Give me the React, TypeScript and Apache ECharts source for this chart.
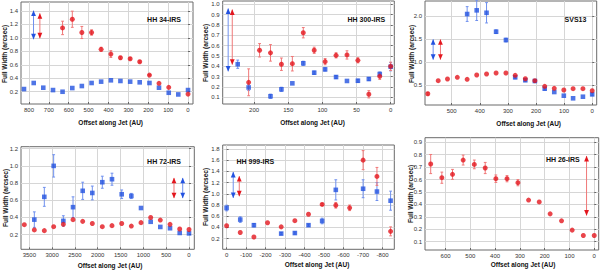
import React, { useEffect, useRef } from 'react';
import * as echarts from 'echarts';

const RED = '#e3161e';
const RED_ERR = '#f07878';
const BLUE = '#2352e0';
const BLUE_ERR = '#6f90ee';

// ---------- Panel 1: HH 34-IRS ----------
const p1Title = 'HH 34-IRS';
const p1BlueX = [825, 776, 728, 679, 631, 582, 534, 485, 437, 388, 340, 291, 243, 194, 146, 97, 49, 0];
const p1BlueY = [0.24, 0.33, 0.26, 0.225, 0.2, 0.255, 0.285, 0.33, 0.35, 0.37, 0.36, 0.35, 0.34, 0.33, 0.26, 0.185, 0.16, 0.225];
const p1BlueErr = [0, 0, 0, 0, 0, 0, 0, 0, 0, 0, 0, 0, 0, 0, 0, 0, 0, 0];
const p1RedX = [631, 582, 534, 485, 437, 388, 340, 291, 243, 194, 146, 97, 0];
const p1RedY = [1.148, 1.277, 1.08, 1.08, 0.83, 0.76, 0.705, 0.69, 0.645, 0.447, 0.325, 0.265, 0.165];
const p1RedErr = [0.1, 0.12, 0.09, 0.04, 0.03, 0.05, 0.02, 0.015, 0.015, 0.01, 0, 0, 0];
const p1BlueArrow = [777, 1.025, 1.36];
const p1RedArrow = [745, 1.04, 1.32];
const p1XTicks = [0, 100, 200, 300, 400, 500, 600, 700, 800];
const p1YTicks = [0.2, 0.4, 0.6, 0.8, 1.0, 1.2, 1.4];

// ---------- Panel 2: HH 300-IRS ----------
const p2Title = 'HH 300-IRS';
const p2BlueX = [224, 208, 176, 160, 144, 128, 112, 96, 80, 64, 48, 32, 16, 0];
const p2BlueY = [0.42, 0.195, 0.11, 0.177, 0.235, 0.429, 0.338, 0.37, 0.296, 0.258, 0.26, 0.277, 0.325, 0.396];
const p2BlueErr = [0.04, 0.03, 0.02, 0.02, 0, 0.02, 0.015, 0.015, 0.015, 0, 0.015, 0.015, 0.02, 0.04];
const p2RedX = [208, 192, 176, 160, 144, 128, 112, 96, 80, 64, 48, 32, 16, 0];
const p2RedY = [0.245, 0.555, 0.53, 0.42, 0.425, 0.725, 0.555, 0.445, 0.506, 0.51, 0.458, 0.129, 0.303, 0.4];
const p2RedErr = [0.13, 0.065, 0.08, 0.06, 0.07, 0.05, 0.03, 0.03, 0.025, 0.04, 0.025, 0.035, 0.03, 0.04];
const p2BlueArrow = [238, 0.38, 0.93];
const p2RedArrow = [232, 0.445, 0.92];
const p2XTicks = [0, 50, 100, 150, 200];
const p2YTicks = [0.1, 0.2, 0.3, 0.4, 0.5, 0.6, 0.7, 0.8, 0.9, 1.0];

// ---------- Panel 3: SVS13 ----------
const p3Title = 'SVS13';
const p3BlueX = [445, 411, 376, 342, 307, 274, 238, 204, 169, 135, 101, 68, 33, 0];
const p3BlueY = [2.043, 2.123, 2.07, 1.66, 1.48, 0.673, 0.61, 0.593, 0.427, 0.355, 0.275, 0.219, 0.253, 0.305];
const p3BlueErr = [0.16, 0.22, 0.22, 0.04, 0.04, 0.03, 0.03, 0.03, 0.03, 0, 0, 0, 0, 0.03];
const p3RedX = [585, 548, 515, 480, 445, 411, 376, 342, 307, 274, 238, 204, 169, 135, 101, 68, 33, 0];
const p3RedY = [0.318, 0.6, 0.636, 0.673, 0.63, 0.723, 0.745, 0.766, 0.766, 0.716, 0.643, 0.6, 0.478, 0.435, 0.398, 0.427, 0.427, 0.384];
const p3RedErr = [0.03, 0, 0, 0, 0, 0, 0, 0, 0, 0, 0, 0, 0, 0, 0, 0, 0, 0];
const p3BlueArrow = [566, 1.12, 1.43];
const p3RedArrow = [540, 1.12, 1.43];
const p3XTicks = [0, 100, 200, 300, 400, 500];
const p3YTicks = [0.5, 1.0, 1.5, 2.0];

// ---------- Panel 4: HH 72-IRS ----------
const p4Title = 'HH 72-IRS';
const p4BlueX = [3390, 3171, 2966, 2754, 2542, 2330, 2119, 1900, 1688, 1475, 1264, 1052, 840, 629, 416, 204, 0];
const p4BlueY = [0.375, 0.64, 1.0, 0.36, 0.52, 0.71, 0.685, 0.81, 0.845, 0.67, 0.65, 0.51, 0.35, 0.29, 0.275, 0.22, 0.215];
const p4BlueErr = [0.09, 0.11, 0.13, 0.06, 0.12, 0.1, 0.08, 0.07, 0.07, 0.05, 0.03, 0, 0, 0, 0, 0, 0];
const p4RedX = [3609, 3390, 3171, 2966, 2754, 2542, 2330, 2119, 1900, 1688, 1475, 1264, 1052, 840, 629, 416, 204, 0];
const p4RedY = [0.316, 0.255, 0.247, 0.293, 0.32, 0.375, 0.355, 0.33, 0.293, 0.305, 0.33, 0.3, 0.34, 0.4, 0.37, 0.32, 0.266, 0.26];
const p4RedErr = [0, 0, 0, 0, 0, 0, 0, 0, 0, 0, 0, 0, 0, 0, 0, 0, 0, 0];
const p4BlueArrow = [138, 0.66, 0.825];
const p4RedArrow = [329, 0.66, 0.825];
const p4XTicks = [0, 500, 1000, 1500, 2000, 2500, 3000, 3500];
const p4YTicks = [0.2, 0.4, 0.6, 0.8, 1.0, 1.2];

// ---------- Panel 5: HH 999-IRS ----------
const p5Title = 'HH 999-IRS';
const p5BlueX = [0, -70, -140, -280, -350, -420, -490, -560, -700, -771, -841];
const p5BlueY = [0.746, 0.54, 0.44, 0.29, 0.3, 0.44, 0.515, 1.07, 1.09, 1.04, 0.877];
const p5BlueErr = [0.05, 0.05, 0.03, 0.02, 0.02, 0.02, 0.05, 0.18, 0.16, 0.16, 0.17];
const p5RedX = [0, -70, -140, -210, -280, -350, -420, -490, -560, -631, -700, -771, -841];
const p5RedY = [0.43, 0.31, 0.23, 0.484, 0.41, 0.52, 0.635, 0.81, 0.795, 0.75, 1.6, 1.31, 0.33];
const p5RedErr = [0, 0, 0, 0, 0, 0, 0, 0.02, 0.05, 0.05, 0.17, 0.16, 0.08];
const p5BlueArrow = [-34, 0.98, 1.335];
const p5RedArrow = [-65, 1.01, 1.26];
const p5XTicks = [0, -100, -200, -300, -400, -500, -600, -700, -800];
const p5YTicks = [0.2, 0.4, 0.6, 0.8, 1.0, 1.2, 1.4, 1.6, 1.8];

// ---------- Panel 6: HH 26-IRS ----------
const p6Title = 'HH 26-IRS';
const p6RedX = [660, 615, 572, 529, 484, 440, 397, 352, 308, 265, 222, 178, 132, 89, 44, 0];
const p6RedY = [0.725, 0.615, 0.642, 0.757, 0.722, 0.693, 0.607, 0.607, 0.575, 0.435, 0.42, 0.324, 0.268, 0.193, 0.15, 0.15];
const p6RedErr = [0.077, 0.045, 0.04, 0.04, 0.035, 0.045, 0.03, 0.025, 0.025, 0, 0, 0, 0, 0, 0, 0];
const p6RedArrow = [31, 0.335, 0.765];
const p6XTicks = [0, 100, 200, 300, 400, 500, 600];
const p6YTicks = [0.1, 0.2, 0.3, 0.4, 0.5, 0.6, 0.7, 0.8, 0.9];

const Y_TITLE = 'Full Width (arcsec)';
const X_TITLE = 'Offset along Jet (AU)';
const FONT = '"Liberation Sans", Arial, Helvetica, sans-serif';

type Panel = {
  title: string;
  blueX?: number[]; blueY?: number[]; blueErr?: number[];
  redX: number[]; redY: number[]; redErr: number[];
  blueArrow?: number[]; redArrow?: number[];
  xTicks: number[]; yTicks: number[];
  layout: {
    left: number; top: number; width: number; height: number;
    xMin: number; xMax: number; yMin: number; yMax: number;
    titleX: number; titleY: number;
    yTitleX: number; yTitleY: number;
    xTitleX: number; xTitleY: number;
  };
};

const panels: Panel[] = [
  {
    title: p1Title, blueX: p1BlueX, blueY: p1BlueY, blueErr: p1BlueErr,
    redX: p1RedX, redY: p1RedY, redErr: p1RedErr, blueArrow: p1BlueArrow, redArrow: p1RedArrow,
    xTicks: p1XTicks, yTicks: p1YTicks,
    layout: { left: 21, top: 2, width: 172, height: 102, xMin: -25, xMax: 840, yMin: 0.018, yMax: 1.533,
      titleX: 164, titleY: 19, yTitleX: 4, yTitleY: 54, xTitleX: 110.7, xTitleY: 122.3 },
  },
  {
    title: p2Title, blueX: p2BlueX, blueY: p2BlueY, blueErr: p2BlueErr,
    redX: p2RedX, redY: p2RedY, redErr: p2RedErr, blueArrow: p2BlueArrow, redArrow: p2RedArrow,
    xTicks: p2XTicks, yTicks: p2YTicks,
    layout: { left: 222.7, top: 1, width: 171.6, height: 103, xMin: -5.3, xMax: 246, yMin: 0.035, yMax: 1.032,
      titleX: 366.3, titleY: 19, yTitleX: 205, yTitleY: 53, xTitleX: 312.5, xTitleY: 122 },
  },
  {
    title: p3Title, blueX: p3BlueX, blueY: p3BlueY, blueErr: p3BlueErr,
    redX: p3RedX, redY: p3RedY, redErr: p3RedErr, blueArrow: p3BlueArrow, redArrow: p3RedArrow,
    xTicks: p3XTicks, yTicks: p3YTicks,
    layout: { left: 425, top: 1, width: 171.7, height: 104, xMin: -16, xMax: 595, yMin: 0.074, yMax: 2.325,
      titleX: 575.5, titleY: 19, yTitleX: 411, yTitleY: 54, xTitleX: 528.7, xTitleY: 123.3 },
  },
  {
    title: p4Title, blueX: p4BlueX, blueY: p4BlueY, blueErr: p4BlueErr,
    redX: p4RedX, redY: p4RedY, redErr: p4RedErr, blueArrow: p4BlueArrow, redArrow: p4RedArrow,
    xTicks: p4XTicks, yTicks: p4YTicks,
    layout: { left: 21, top: 146.7, width: 173.3, height: 102.6, xMin: -116, xMax: 3682, yMin: 0.03, yMax: 1.223,
      titleX: 164, titleY: 161.7, yTitleX: 5, yTitleY: 198, xTitleX: 110, xTitleY: 265.5 },
  },
  {
    title: p5Title, blueX: p5BlueX, blueY: p5BlueY, blueErr: p5BlueErr,
    redX: p5RedX, redY: p5RedY, redErr: p5RedErr, blueArrow: p5BlueArrow, redArrow: p5RedArrow,
    xTicks: p5XTicks, yTicks: p5YTicks,
    layout: { left: 222.7, top: 145, width: 171.6, height: 104.3, xMin: -860, xMax: 20, yMin: 0.01, yMax: 1.87,
      titleX: 255.3, titleY: 161.7, yTitleX: 205, yTitleY: 197, xTitleX: 317, xTitleY: 264.3 },
  },
  {
    title: p6Title,
    redX: p6RedX, redY: p6RedY, redErr: p6RedErr, redArrow: p6RedArrow,
    xTicks: p6XTicks, yTicks: p6YTicks,
    layout: { left: 425, top: 137.7, width: 173.7, height: 112.3, xMin: -18, xMax: 683, yMin: 0.033, yMax: 0.937,
      titleX: 562.8, titleY: 159, yTitleX: 410, yTitleY: 194, xTitleX: 523, xTitleY: 264.3 },
  },
];

function errRender(color: string) {
  return (params: any, api: any) => {
    const x = api.value(0);
    const y = api.value(1);
    const e = api.value(2);
    if (!e) return { type: 'group', children: [] };
    const a = api.coord([x, y + e]);
    const b = api.coord([x, y - e]);
    const w = 1.4;
    const st = { stroke: color, lineWidth: 1 };
    return {
      type: 'group',
      children: [
        { type: 'line', shape: { x1: a[0], y1: a[1], x2: b[0], y2: b[1] }, style: st },
        { type: 'line', shape: { x1: a[0] - w, y1: a[1], x2: a[0] + w, y2: a[1] }, style: st },
        { type: 'line', shape: { x1: b[0] - w, y1: b[1], x2: b[0] + w, y2: b[1] }, style: st },
      ],
    };
  };
}

function arrowRender(lineColor: string, triColor: string) {
  return (params: any, api: any) => {
    const x = api.value(0);
    const lo = api.value(1);
    const hi = api.value(2);
    const t = api.coord([x, hi]);
    const b = api.coord([x, lo]);
    const hw = 2.4;
    return {
      type: 'group',
      children: [
        { type: 'line', shape: { x1: t[0], y1: t[1] - 3, x2: b[0], y2: b[1] + 3 }, style: { stroke: lineColor, lineWidth: 1 } },
        { type: 'polygon', shape: { points: [[t[0], t[1] - 3.2], [t[0] - hw, t[1] + 2.4], [t[0] + hw, t[1] + 2.4]] }, style: { fill: triColor } },
        { type: 'polygon', shape: { points: [[b[0], b[1] + 3.2], [b[0] - hw, b[1] - 2.4], [b[0] + hw, b[1] - 2.4]] }, style: { fill: triColor } },
      ],
    };
  };
}

function zip3(xs: number[], ys: number[], es?: number[]) {
  return xs.map((x, i) => [x, ys[i], es ? es[i] : 0]);
}

function buildOption() {
  const grid: any[] = [];
  const xAxis: any[] = [];
  const yAxis: any[] = [];
  const series: any[] = [];
  const graphic: any[] = [];
  const labelStyle = { fontSize: 6, color: '#333', fontFamily: FONT };

  panels.forEach((p, i) => {
    const L = p.layout;
    grid.push({ left: L.left, top: L.top, width: L.width, height: L.height, show: true, borderColor: '#6a6a6a', borderWidth: 1, backgroundColor: '#fff' });
    xAxis.push({
      type: 'value', gridIndex: i, inverse: true, min: L.xMin, max: L.xMax,
      axisLine: { show: false },
      axisTick: { show: true, inside: true, length: 2, lineStyle: { color: '#666' }, customValues: p.xTicks },
      axisLabel: { ...labelStyle, margin: 3, customValues: p.xTicks, formatter: (v: number) => String(v) },
      splitLine: { show: true, lineStyle: { color: '#d6d6d6', width: 1 } },
    });
    yAxis.push({
      type: 'value', gridIndex: i, min: L.yMin, max: L.yMax,
      axisLine: { show: false },
      axisTick: { show: true, inside: true, length: 2, lineStyle: { color: '#666' }, customValues: p.yTicks },
      axisLabel: { ...labelStyle, margin: 3, customValues: p.yTicks, formatter: (v: number) => v.toFixed(1) },
      splitLine: { show: true, lineStyle: { color: '#d6d6d6', width: 1 } },
    });
    if (p.blueX && p.blueY) {
      series.push({
        type: 'custom', xAxisIndex: i, yAxisIndex: i, z: 2,
        renderItem: errRender(BLUE_ERR), data: zip3(p.blueX, p.blueY, p.blueErr),
      });
    }
    series.push({
      type: 'custom', xAxisIndex: i, yAxisIndex: i, z: 2,
      renderItem: errRender(RED_ERR), data: zip3(p.redX, p.redY, p.redErr),
    });
    if (p.blueArrow) {
      series.push({
        type: 'custom', xAxisIndex: i, yAxisIndex: i, z: 3,
        renderItem: arrowRender(BLUE_ERR, BLUE), data: [p.blueArrow],
      });
    }
    if (p.redArrow) {
      series.push({
        type: 'custom', xAxisIndex: i, yAxisIndex: i, z: 3,
        renderItem: arrowRender(RED_ERR, RED), data: [p.redArrow],
      });
    }
    if (p.blueX && p.blueY) {
      series.push({
        type: 'scatter', xAxisIndex: i, yAxisIndex: i, z: 4, symbol: 'rect', symbolSize: 4.6,
        itemStyle: { color: BLUE }, data: p.blueX.map((x, k) => [x, p.blueY![k]]),
      });
    }
    series.push({
      type: 'scatter', xAxisIndex: i, yAxisIndex: i, z: 5, symbol: 'circle', symbolSize: 5,
      itemStyle: { color: RED }, data: p.redX.map((x, k) => [x, p.redY[k]]),
    });

    graphic.push({
      type: 'text', x: L.titleX, y: L.titleY, z: 10,
      style: { text: p.title, fontSize: 7, fontWeight: 'bold', fill: '#111', font: `bold 7px ${FONT}`, align: 'center', verticalAlign: 'middle' },
    });
    graphic.push({
      type: 'text', x: L.yTitleX, y: L.yTitleY, rotation: Math.PI / 2, z: 10,
      style: { text: Y_TITLE, font: `bold 6.5px ${FONT}`, fill: '#111', align: 'center', verticalAlign: 'middle' },
    });
    graphic.push({
      type: 'text', x: L.xTitleX, y: L.xTitleY, z: 10,
      style: { text: X_TITLE, font: `bold 6.5px ${FONT}`, fill: '#111', align: 'center', verticalAlign: 'middle' },
    });
  });

  return {
    animation: false,
    backgroundColor: '#fff',
    grid, xAxis, yAxis, series, graphic,
  };
}

export default function App() {
  const ref = useRef<HTMLDivElement>(null);
  useEffect(() => {
    if (!ref.current) return;
    const chart = echarts.init(ref.current, undefined, { renderer: 'svg' });
    chart.setOption(buildOption() as any);
    return () => chart.dispose();
  }, []);
  return (
    <div
      ref={ref}
      style={{ position: 'fixed', left: 0, top: 0, width: 600, height: 271, background: '#fff' }}
    />
  );
}
